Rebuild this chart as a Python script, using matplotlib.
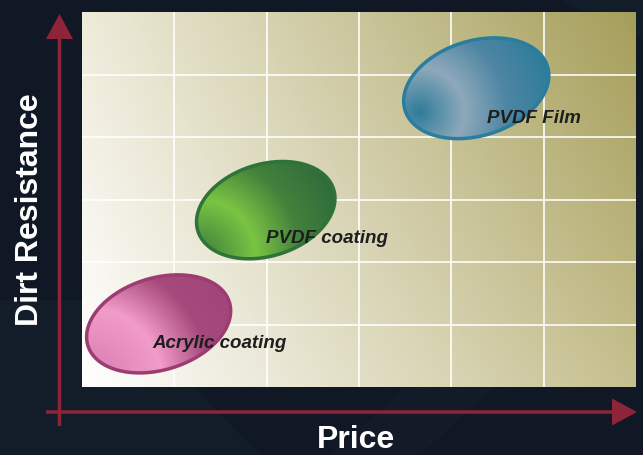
import numpy as np
import matplotlib
matplotlib.use('Agg')
import matplotlib.pyplot as plt
from matplotlib.patches import Polygon, FancyArrow
from matplotlib.colors import LinearSegmentedColormap, to_rgb

W, H = 643, 455
# plot area in pixels (left, right, top, bottom)
L, R, T, B = 82, 636, 12, 387

######

names = ['Acrylic coating', 'PVDF coating', 'PVDF Film']
price = [0.83, 1.99, 4.27]
dirt = [1.01, 2.83, 4.78]
label_x = [0.76, 1.99, 4.39]
label_y = [0.62, 2.30, 4.22]
ncols, nrows = 6, 6

xlabel = 'Price'
ylabel = 'Dirt Resistance'

# ellipse shapes in pixels: semi-axes, tilt, gradient focus offset, peak, reach
shapes = [
    dict(a=74, b=46, ang=17, focus=(-69, -56), peak=0.45, reach=160,
         cols=['#d67aae', '#f29cca', '#a6497c', '#a3457a'], edge='#9c3d72'),
    dict(a=71, b=46, ang=17, focus=(-66, -45), peak=0.37, reach=150,
         cols=['#3d7d3c', '#7ac443', '#43813c', '#2f6b3b'], edge='#2f7338'),
    dict(a=74.5, b=47.5, ang=17, focus=(-57, -24), peak=0.32, reach=140,
         cols=['#2f7c99', '#8ea9bb', '#4f86a3', '#2a7b9b'], edge='#2b7d9e'),
]

font = {'family': 'Liberation Sans', 'weight': 'bold'}
matplotlib.rc('font', **font)

fig = plt.figure(figsize=(W / 100, H / 100), dpi=100)
fig.patch.set_facecolor('#0f1824')

# background layer in pixel coordinates
bg = fig.add_axes([0, 0, 1, 1], zorder=0)
bg.set_xlim(0, W)
bg.set_ylim(H, 0)
bg.axis('off')
bg.add_patch(Polygon([[0, 300], [0, 455], [260, 455], [110, 300]], closed=True,
                     facecolor='#1b2633', alpha=0.35, lw=0))
bg.add_patch(Polygon([[330, 455], [420, 455], [643, 250], [643, 170]], closed=True,
                     facecolor='#18232f', alpha=0.35, lw=0))
bg.add_patch(Polygon([[500, 0], [643, 0], [643, 40], [560, 0]], closed=True,
                     facecolor='#1a2531', alpha=0.4, lw=0))

arrow_col = '#8e2438'
bg.add_patch(FancyArrow(59.5, 426, 0, 14 - 426, width=3.5, head_width=27, head_length=25,
                        length_includes_head=True, color=arrow_col, lw=0))
bg.add_patch(FancyArrow(46, 412, 637 - 46, 0, width=3.5, head_width=27, head_length=25,
                        length_includes_head=True, color=arrow_col, lw=0))
bg.text((L + R) / 2 - 3, 440, xlabel, color='white', fontsize=23, ha='center', va='center')
bg.text(30, 210, ylabel, color='white', fontsize=23, ha='center', va='center', rotation=90)

# main axes over plot area
ax = fig.add_axes([L / W, 1 - B / H, (R - L) / W, (B - T) / H], zorder=1)
sx = (R - L) / ncols
sy = (B - T) / nrows

# gradient background of plot area
gx = np.linspace(0, 1, 300)
gy = np.linspace(0, 1, 200)
GX, GY = np.meshgrid(gx, gy)
c_bl = np.array(to_rgb('#ffffff'))
c_tl = np.array(to_rgb('#eeebda'))
c_br = np.array(to_rgb('#c6bf8f'))
c_tr = np.array(to_rgb('#a59e5a'))
img = ((1 - GX) * (1 - GY))[..., None] * c_bl + ((1 - GX) * GY)[..., None] * c_tl \
    + (GX * (1 - GY))[..., None] * c_br + (GX * GY)[..., None] * c_tr
ax.imshow(img, extent=(0, ncols, 0, nrows), origin='lower', aspect='auto', zorder=0)

for i in range(1, ncols):
    ax.axvline(i, color='white', lw=1.3, alpha=0.9, zorder=1)
for j in range(1, nrows):
    ax.axhline(j, color='white', lw=1.3, alpha=0.9, zorder=1)

t = np.linspace(0, 2 * np.pi, 300)
for k, name in enumerate(names):
    s = shapes[k]
    th = np.deg2rad(s['ang'])
    ex = s['a'] * np.cos(t) * np.cos(th) - s['b'] * np.sin(t) * np.sin(th)
    ey = s['a'] * np.cos(t) * np.sin(th) + s['b'] * np.sin(t) * np.cos(th)
    pts = np.column_stack([price[k] + ex / sx, dirt[k] + ey / sy])

    # gradient fill clipped to the ellipse
    x0, x1 = price[k] - 90 / sx, price[k] + 90 / sx
    y0, y1 = dirt[k] - 60 / sy, dirt[k] + 60 / sy
    mx, my = np.meshgrid(np.linspace(-90, 90, 240), np.linspace(-60, 60, 160))
    d = np.hypot(mx - s['focus'][0], my - s['focus'][1]) / s['reach']
    cmap = LinearSegmentedColormap.from_list(
        'g%d' % k, list(zip([0, s['peak'], s['peak'] + 0.3, 1], s['cols'])))
    im = ax.imshow(cmap(np.clip(d, 0, 1)), extent=(x0, x1, y0, y1), origin='lower',
                   aspect='auto', zorder=2)
    outline = Polygon(pts, closed=True, facecolor='none', edgecolor=s['edge'], lw=2.5, zorder=3)
    ax.add_patch(outline)
    im.set_clip_path(outline)

    ax.text(label_x[k], label_y[k], name, fontsize=13.5, style='italic', color='#1e1e1e',
            ha='left', va='baseline', zorder=4)

ax.set_xlim(0, ncols)
ax.set_ylim(0, nrows)
ax.set_xticks([])
ax.set_yticks([])
for sp in ax.spines.values():
    sp.set_visible(False)

fig.savefig('out.png', dpi=100, facecolor=fig.get_facecolor())
